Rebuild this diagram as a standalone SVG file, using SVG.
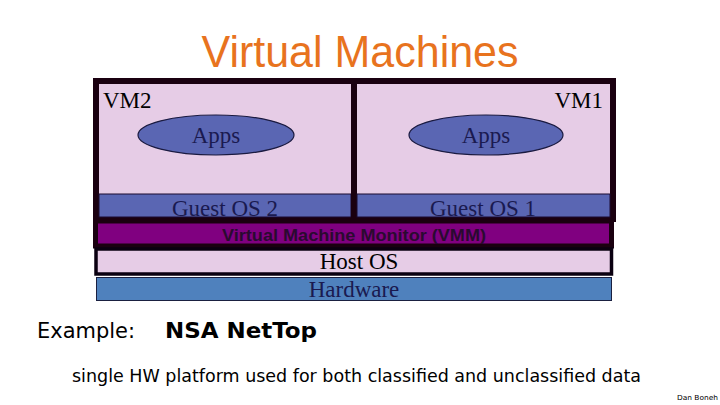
<svg xmlns="http://www.w3.org/2000/svg" width="720" height="405" viewBox="0 0 720 405">
<style>
.tm{font-family:"Liberation Serif","Times New Roman",serif;font-size:23px;fill:#000}
.tn{font-family:"Liberation Serif","Times New Roman",serif;font-size:23px;fill:#1a1a50}
.pink{fill:#E6CCE6}
.gos{fill:#5A66B3;stroke:#1a0a30;stroke-width:1}
.app{fill:#5A66B3;stroke:#1a1a40;stroke-width:1.2}
.sans{font-family:"DejaVu Sans","Liberation Sans",sans-serif;fill:#000}
</style>
<rect width="720" height="405" fill="#fff"/>
<text x="360" y="67" text-anchor="middle" font-family="'Liberation Sans',Arial,sans-serif" font-size="44" fill="#E8731E" textLength="317" lengthAdjust="spacingAndGlyphs">Virtual Machines</text>

<g id="vm2">
<rect x="96" y="81" width="258" height="138" class="pink" stroke="#1a0010" stroke-width="6"/>
<rect x="99" y="194" width="252" height="23" class="gos"/>
<text x="103" y="108" class="tm">VM2</text>
</g>
<g id="vm1">
<rect x="354" y="81" width="259" height="138" class="pink" stroke="#1a0010" stroke-width="6"/>
<rect x="357" y="194" width="253" height="23" class="gos"/>
<text x="603" y="108" class="tm" text-anchor="end">VM1</text>
</g>
<g id="apps2">
<ellipse cx="216" cy="135" rx="78" ry="20" class="app"/>
<text x="216" y="143" class="tn" text-anchor="middle">Apps</text>
</g>
<g id="apps1">
<ellipse cx="486" cy="135" rx="77" ry="20" class="app"/>
<text x="486" y="143" class="tn" text-anchor="middle">Apps</text>
</g>
<g id="guestos2">
<text x="225" y="216" class="tn" text-anchor="middle">Guest OS 2</text>
</g>
<g id="guestos1">
<text x="483" y="216" class="tn" text-anchor="middle">Guest OS 1</text>
</g>
<g id="vmm">
<rect x="95.5" y="221" width="516" height="25" fill="#800080" stroke="#1a0010" stroke-width="5"/>
<text x="354" y="241" text-anchor="middle" font-family="'Liberation Sans',Arial,sans-serif" font-weight="bold" font-size="16" fill="#2a0a30" textLength="264" lengthAdjust="spacingAndGlyphs">Virtual Machine Monitor (VMM)</text>
</g>
<g id="hostos">
<rect x="96" y="249" width="515.5" height="25" class="pink" stroke="#0a0010" stroke-width="3.5"/>
<text x="359" y="269" class="tm" text-anchor="middle">Host OS</text>
</g>
<g id="hardware">
<rect x="96.5" y="277.5" width="515" height="23" fill="#4F81BD" stroke="#1a2040" stroke-width="1"/>
<text x="354" y="297" class="tn" text-anchor="middle">Hardware</text>
</g>
<g id="connectors"></g>

<text x="37" y="338" class="sans" font-size="21" textLength="98" lengthAdjust="spacingAndGlyphs">Example:</text>
<text x="165" y="338" class="sans" font-size="21" font-weight="bold" textLength="152" lengthAdjust="spacingAndGlyphs">NSA  NetTop</text>
<text x="72" y="382" class="sans" font-size="18" textLength="569" lengthAdjust="spacingAndGlyphs">single HW platform used for both classified and unclassified data</text>
<text x="677" y="400" class="sans" font-size="7" textLength="41" lengthAdjust="spacingAndGlyphs">Dan Boneh</text>
</svg>
